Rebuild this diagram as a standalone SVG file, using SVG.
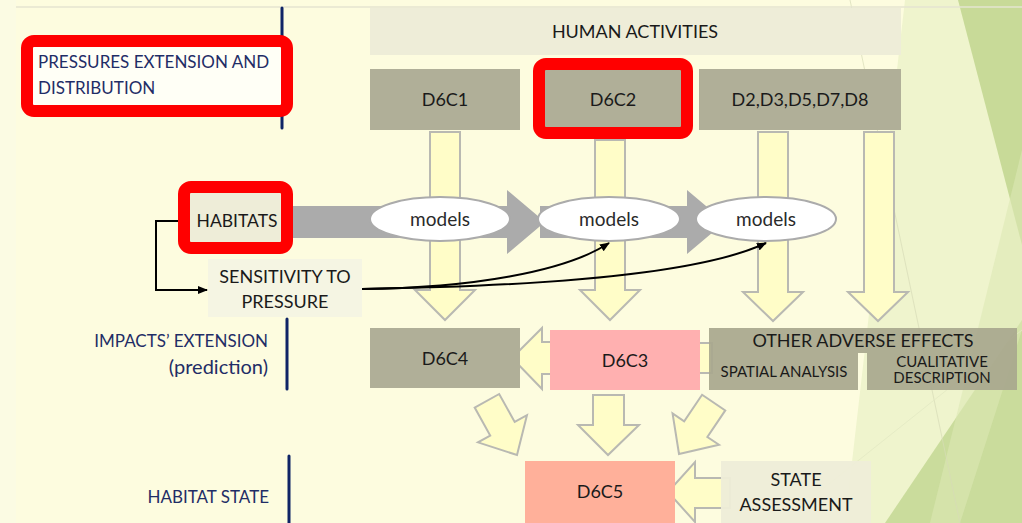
<svg xmlns="http://www.w3.org/2000/svg" width="1022" height="523" viewBox="0 0 1022 523">
<style>
.t{font-family:Lato,"Open Sans","Liberation Sans",sans-serif;}
.lbl{font-size:17px;fill:#1F2D66;}
.lblr{font-size:17px;fill:#1F2D66;text-anchor:end;}
.pred{font-size:20px;fill:#1F2D66;text-anchor:end;}
.box{fill:#B0AF98;}
.bt{font-size:18px;fill:#1a1a1a;text-anchor:middle;}
.mt{font-size:19px;fill:#2a2a2a;text-anchor:middle;}
.st{font-size:15px;fill:#1a1a1a;text-anchor:middle;}
.ya{fill:#FFFDC8;stroke:#B9B9B2;stroke-width:2;stroke-linejoin:miter;}
.red{fill:none;stroke:#FF0000;stroke-width:12;}
.ell{fill:#fff;stroke:#ABABAB;stroke-width:2;}
.nav{stroke:#0F2466;stroke-width:3;stroke-linecap:round;}
.con{fill:none;stroke:#000;stroke-width:2;}
.ga{fill:#ABABAB;}
</style>
<defs>
<marker id="ah" markerWidth="10" markerHeight="8" refX="9" refY="4" orient="auto" markerUnits="userSpaceOnUse"><path d="M0,0 L10,4 L0,8 Z" fill="#000"/></marker>
</defs>
<g id="background">
<rect x="0" y="0" width="1022" height="523" fill="#FDFCDF"/>
<rect x="0" y="0" width="16" height="523" fill="#FBFBE3"/>
<polygon points="905,0 1022,0 1022,523 845,523" fill="#EFF4CD"/>
<polygon points="958,0 1022,0 1022,245" fill="#C8DA98"/>
<polygon points="1022,320 1022,523 885,523" fill="#CADC9C"/>
<polygon points="1022,150 1022,330 960,523 930,523" fill="#DCE8B4" opacity="0.6"/>
<line x1="850" y1="0" x2="960" y2="523" stroke="#D8DCB8" stroke-width="1" opacity="0.7"/>
<line x1="780" y1="523" x2="1022" y2="330" stroke="#E4EAC4" stroke-width="1" opacity="0.8"/>
<line x1="16" y1="7" x2="1022" y2="7" stroke="#E4E4D0" stroke-width="1.5"/>
</g>
<g id="dividers">
<line class="nav" x1="282" y1="8" x2="282" y2="128"/>
<line class="nav" x1="287" y1="319" x2="287" y2="389"/>
<line class="nav" x1="289" y1="456" x2="289" y2="523"/>
</g>
<g id="pressures-label">
<rect x="27" y="41" width="260" height="70" rx="7" fill="#FFFFF6" stroke="#FF0000" stroke-width="12"/>
<text class="t lbl" x="38" y="68">PRESSURES EXTENSION AND</text>
<text class="t lbl" x="38" y="94">DISTRIBUTION</text>
</g>
<g id="impacts-label">
<text class="t lblr" x="268" y="347">IMPACTS’ EXTENSION</text>
<text class="t pred" x="268" y="374">(prediction)</text>
</g>
<g id="habitat-state-label">
<text class="t lblr" x="269" y="503">HABITAT STATE</text>
</g>
<g id="human-activities">
<rect x="370" y="8" width="531" height="47" fill="#EEEDD8"/>
<text class="t bt" x="635" y="38">HUMAN ACTIVITIES</text>
</g>
<g id="d6c1">
<rect class="box" x="370" y="69" width="150" height="61"/>
<text class="t bt" x="445" y="106">D6C1</text>
</g>
<g id="d6c2">
<rect class="box" x="539" y="64" width="148" height="69"/>
<rect class="red" x="539" y="64" width="148" height="69" rx="7"/>
<text class="t bt" x="613" y="106">D6C2</text>
</g>
<g id="d2d8">
<rect class="box" x="699" y="69" width="202" height="61"/>
<text class="t bt" x="800" y="106">D2,D3,D5,D7,D8</text>
</g>
<g id="connectors">
<path class="ya" d="M430,132 H460 V290 H475 L445,320 L415,290 H430 Z"/>
<path class="ya" d="M595,140 H625 V290 H640 L610,320 L580,290 H595 Z"/>
<path class="ya" d="M758,132 H788 V292 H803 L773,321 L743,292 H758 Z"/>
<path class="ya" d="M864,132 H894 V292 H908 L878,321 L848,292 H864 Z"/>
<path class="ga" d="M290,206 H507 V190 L545,222 L507,254 V238 H290 Z"/>
<path class="ga" d="M540,206 H687 V190 L725,222 L687,254 V238 H540 Z"/>
<path class="ya" d="M560,342 H542 V328 L512,358 L542,389 V374 H560 Z"/>
<path class="ya" d="M690,343 H712 V373 H690 Z"/>
<path class="ya" d="M593,395 H624 V425 H639 L608,455 L578,425 H593 Z"/>
<path class="ya" transform="translate(517,455) rotate(-29)" d="M-14,-62 H14 V-30 H28 L0,0 L-28,-30 H-14 Z"/>
<path class="ya" transform="translate(679,454) rotate(34)" d="M-14,-62 H14 V-30 H28 L0,0 L-28,-30 H-14 Z"/>
<path class="ya" d="M730,478 H695 V462 L668,492 L695,522 V508 H730 Z"/>
<path class="con" d="M178,221 H156 V290 H207" marker-end="url(#ah)"/>
<path class="con" d="M362,289 C470,288 565,272 609,243" marker-end="url(#ah)"/>
<path class="con" d="M362,289 C560,286 705,272 766,243" marker-end="url(#ah)"/>
</g>
<g id="models1">
<ellipse class="ell" cx="440" cy="219" rx="70" ry="22"/>
<text class="t mt" x="440" y="226">models</text>
</g>
<g id="models2">
<ellipse class="ell" cx="609" cy="219" rx="71" ry="22"/>
<text class="t mt" x="609" y="226">models</text>
</g>
<g id="models3">
<ellipse class="ell" cx="766" cy="219" rx="70" ry="22"/>
<text class="t mt" x="766" y="226">models</text>
</g>
<g id="habitats">
<rect x="184" y="187" width="103" height="61" rx="7" fill="#EEEDD8" stroke="#FF0000" stroke-width="12"/>
<text class="t" x="237" y="227" font-size="17.5" fill="#1a1a1a" text-anchor="middle">HABITATS</text>
</g>
<g id="sensitivity">
<rect x="208" y="259" width="154" height="58" fill="#F5F5E3"/>
<text class="t bt" x="285" y="283" fill="#333">SENSITIVITY TO</text>
<text class="t bt" x="285" y="308" fill="#333">PRESSURE</text>
</g>
<g id="d6c4">
<rect class="box" x="370" y="328" width="150" height="60"/>
<text class="t bt" x="445" y="365">D6C4</text>
</g>
<g id="d6c3">
<rect x="550" y="330" width="150" height="60" fill="#FFB0B0"/>
<text class="t bt" x="625" y="367">D6C3</text>
</g>
<g id="other-adverse">
<path d="M709,328 H1017 V390 H867 V353 H858 V390 H709 Z" fill="#A9A88E" opacity="0.93"/>
<text class="t" x="863" y="347" font-size="18" fill="#1a1a1a" text-anchor="middle">OTHER ADVERSE EFFECTS</text>
<text class="t st" x="784" y="377">SPATIAL ANALYSIS</text>
<text class="t st" x="942" y="367">CUALITATIVE</text>
<text class="t st" x="942" y="383">DESCRIPTION</text>
</g>
<g id="d6c5">
<rect x="525" y="461" width="150" height="62" fill="#FFB09A"/>
<text class="t bt" x="600" y="498">D6C5</text>
</g>
<g id="state-assessment">
<rect x="721" y="461" width="150" height="62" fill="#EEEDD8" opacity="0.95"/>
<text class="t bt" x="796" y="486">STATE</text>
<text class="t bt" x="796" y="511">ASSESSMENT</text>
</g>
</svg>
